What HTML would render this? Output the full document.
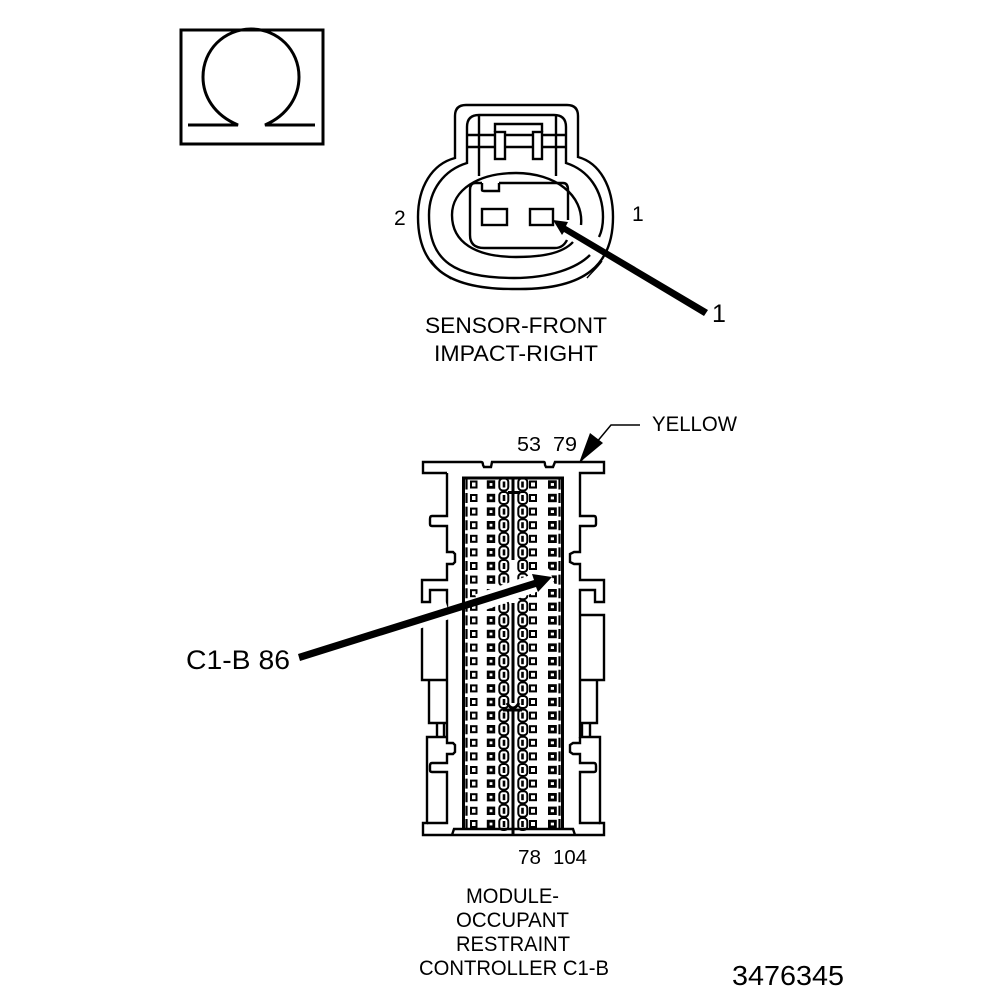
<!DOCTYPE html>
<html><head><meta charset="utf-8"><style>html,body{margin:0;padding:0;background:#fff}svg{display:block}text{font-family:"Liberation Sans",sans-serif;fill:#000}</style></head><body>
<svg width="1008" height="1000" viewBox="0 0 1008 1000" xmlns="http://www.w3.org/2000/svg">
<defs>
<g id="r" fill="none" stroke="#000">
<rect x="471" y="-3" width="5.5" height="6" stroke-width="2"/>
<rect x="488.2" y="-2.8" width="5.6" height="5.6" stroke-width="2.8"/>
<rect x="499.3" y="-6" width="9" height="12" rx="3.5" stroke-width="2"/>
<path d="M504-3V3" stroke-width="2.6"/>
<rect x="518.3" y="-6" width="9" height="12" rx="3.5" stroke-width="2"/>
<path d="M522.5-3V3" stroke-width="2.6"/>
<rect x="530" y="-3" width="6" height="6" stroke-width="2"/>
<rect x="549.4" y="-2.8" width="6" height="5.6" stroke-width="2.8"/>
<path d="M466.5-5V5M559.5-5V5" stroke-width="2.2"/>
</g>
</defs>

<!-- omega -->
<rect x="181" y="30" width="142" height="114" fill="none" stroke="#000" stroke-width="3"/>
<path d="M188 125H238C214 115 203 96 203 77C203 50 224 29 251 29C278 29 299 50 299 77C299 96 288 115 265 125H315" fill="none" stroke="#000" stroke-width="3"/>

<!-- sensor connector -->
<g fill="none" stroke="#000" stroke-width="2.4">
<path d="M455 158V116Q455 105 466 105H567Q578 105 578 116V157C600 163 613 187 613 217C613 265 585 289 520 289H512C445 289 418 265 418 217C418 187 432 164 455 158Z"/>
<path d="M599 237C602 231 603 224 603 217C603 190 588 170 566 163V127Q566 115 554 115H479Q467 115 467 127V163C444 170 429 190 429 215C429 262 455 278 514 278C550 278 577 268 590 255"/>
<path d="M581 225C584 195 555 173 516 173C478 173 452 190 452 215C452 242 475 257 516 257C540 257 562 254 573 242"/>
<path d="M482 183V190Q482 191 484 191H499V183M482 183H475Q470 183 470 190V235Q470 248 484 248H555Q563 248 567 240M499 183H563Q568 183 568 190V220"/>
<rect x="482" y="209" width="25" height="16"/>
<rect x="530" y="209" width="23" height="16"/>
<path d="M479 115V176M556 115V176M467 135H495M542 135H566M467 147H495M542 147H566M505 135H533M505 147H533M495 132V124H542V132"/>
<rect x="495" y="132" width="10" height="27"/>
<rect x="533" y="132" width="9" height="27"/>
</g>
<path d="M431 260C436 268 444 274 451 279M602 261C598 267 592 272 587 278" fill="none" stroke="#000" stroke-width="1.4"/>
<path d="M704 316L564 232L562 235L553 220L568 222L566 226L708 310Z" fill="#000"/>

<text x="394" y="225" font-size="21">2</text>
<text x="632" y="221" font-size="21">1</text>
<text x="712" y="322" font-size="25">1</text>
<text x="425" y="333" font-size="22" textLength="182" lengthAdjust="spacingAndGlyphs">SENSOR-FRONT</text>
<text x="434" y="361" font-size="22" textLength="164" lengthAdjust="spacingAndGlyphs">IMPACT-RIGHT</text>

<!-- controller -->
<text x="517" y="451" font-size="20" textLength="24" lengthAdjust="spacingAndGlyphs">53</text>
<text x="553" y="451" font-size="20" textLength="24" lengthAdjust="spacingAndGlyphs">79</text>
<text x="652" y="431" font-size="21" textLength="85" lengthAdjust="spacingAndGlyphs">YELLOW</text>
<path d="M640 425H611L581 461" fill="none" stroke="#000" stroke-width="1.5"/>
<path d="M579 463L590 433L603 443Z" fill="#000"/>

<g fill="none" stroke="#000" stroke-width="2.4">
<!-- top and right -->
<path d="M447 473H423V462H481Q483 462 483 465L484 467H491L492 462H544Q545 462 545 465L546 467H553L555 462H604V473H580V516H594Q596 516 596 519V524Q596 526 594 526H580V552H574L570 554V562L574 564H580V580H604V602H595V590H580V615H604V680H580M580 590V723H597V680M590 723V737M582 723V737M580 723V737H600V823H604V835H423V823H427V737H447"/>
<!-- left -->
<path d="M447 473V516H432Q430 516 430 519V524Q430 526 432 526H447V552H453L455 554V562L453 564H447V580H422V602H430V590H447V680H422V615M447 680H429V723H447M437 723V737M444 723V737M447 680V737M447 737V743H453L455 745V752L453 754H447V763H432Q430 763 430 766V770Q430 772 432 772H447V823H427M580 737V743H573L570 745V752L573 754H580V763H594Q596 763 596 766V770Q596 772 594 772H580V823H600"/>
<path d="M452 835L454 829H573L575 835"/>
</g>
<path d="M463.5 829V478H562.5V829" fill="none" stroke="#000" stroke-width="3"/>
<path d="M513 478V560M508 492.5H520M513 603V703M507 703Q510 708 513 708Q516 708 519 703M503 710H522M513 710V835" fill="none" stroke="#000" stroke-width="3"/>
<g>
<use href="#r" y="484.5"/><use href="#r" y="498"/><use href="#r" y="511.6"/><use href="#r" y="525.2"/><use href="#r" y="538.8"/><use href="#r" y="552.4"/><use href="#r" y="566"/><use href="#r" y="579.6"/><use href="#r" y="593.2"/><use href="#r" y="606.8"/><use href="#r" y="620.4"/><use href="#r" y="634"/><use href="#r" y="647.6"/><use href="#r" y="661.2"/><use href="#r" y="674.8"/><use href="#r" y="688.4"/><use href="#r" y="702"/><use href="#r" y="715.6"/><use href="#r" y="729.2"/><use href="#r" y="742.8"/><use href="#r" y="756.4"/><use href="#r" y="770"/><use href="#r" y="783.6"/><use href="#r" y="797.2"/><use href="#r" y="810.8"/><use href="#r" y="824"/>
</g>
<path d="M478 603L552 577" stroke="#fff" stroke-width="18" fill="none"/>
<path d="M405 623L448 609" stroke="#fff" stroke-width="20" fill="none"/>
<path d="M298 654L534 580L532 574L552 577L538 592L536 587L300 661Z" fill="#000"/>

<text x="186" y="669" font-size="27" textLength="104" lengthAdjust="spacingAndGlyphs">C1-B 86</text>
<text x="518" y="864" font-size="20" textLength="23" lengthAdjust="spacingAndGlyphs">78</text>
<text x="553" y="864" font-size="20" textLength="34" lengthAdjust="spacingAndGlyphs">104</text>
<text x="466" y="903" font-size="21" textLength="93" lengthAdjust="spacingAndGlyphs">MODULE-</text>
<text x="456" y="927" font-size="21" textLength="113" lengthAdjust="spacingAndGlyphs">OCCUPANT</text>
<text x="456" y="951" font-size="21" textLength="114" lengthAdjust="spacingAndGlyphs">RESTRAINT</text>
<text x="419" y="975" font-size="21" textLength="190" lengthAdjust="spacingAndGlyphs">CONTROLLER C1-B</text>
<text x="732" y="985" font-size="28" textLength="112" lengthAdjust="spacingAndGlyphs">3476345</text>
</svg>
</body></html>
